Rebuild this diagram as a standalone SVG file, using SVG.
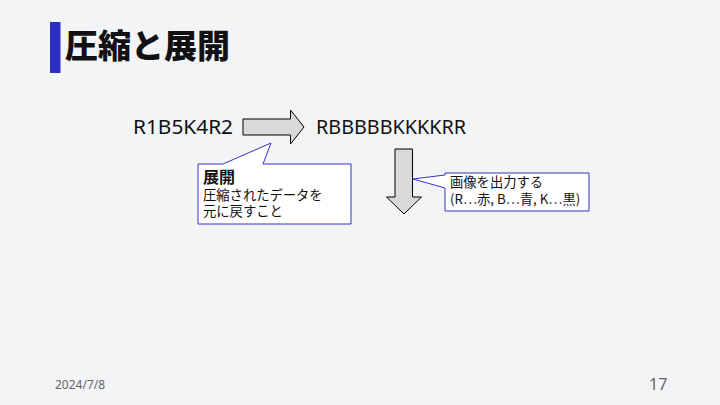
<svg xmlns="http://www.w3.org/2000/svg" width="720" height="405" viewBox="0 0 720 405">
<style>
.t{font-family:"Noto Sans","Noto Sans CJK JP",sans-serif;fill:#111}
.j{font-family:"Noto Sans CJK JP","Noto Sans",sans-serif;fill:#111}
.arrow{fill:#d9d9d9;stroke:#000;stroke-width:1}
.callout{fill:#fff;stroke:#3333cc;stroke-width:1}
.foot{font-family:"Noto Sans",sans-serif;fill:#666}
</style>
<rect width="720" height="405" fill="#f3f4f6"/>
<g id="title">
<rect x="50" y="22" width="10.5" height="51" fill="#2e2ec4"/>
<text class="j" x="65" y="57.5" font-size="33" font-weight="900">圧縮と展開</text>
</g>
<g id="src">
<text class="t" x="133" y="133.5" font-size="19.5" textLength="100" lengthAdjust="spacingAndGlyphs">R1B5K4R2</text>
</g>
<g id="dst">
<text class="t" x="316" y="133.5" font-size="19.5" textLength="150" lengthAdjust="spacingAndGlyphs">RBBBBBKKKKRR</text>
</g>
<g id="connectors">
<path class="arrow" d="M243,119 H290.5 V110 L304,127 L290.5,144 V135 H243 Z"/>
<path class="arrow" d="M395,149 H412.5 V197 H421.5 L404,214 L386.5,197 H395 Z"/>
</g>
<g id="callout-expand">
<path class="callout" d="M198,164 H223 L271,143 L263,164 H351 V224 H198 Z"/>
<text class="j" x="203" y="183" font-size="16" font-weight="bold">展開</text>
<text class="j" x="203" y="200" font-size="13.3">圧縮されたデータを</text>
<text class="j" x="203" y="216" font-size="13.3">元に戻すこと</text>
</g>
<g id="callout-output">
<path class="callout" d="M445,173 H589 V211 H445 V188 L413,179 L445,175 Z"/>
<text class="j" x="450" y="187" font-size="13.3">画像を出力する</text>
<text class="j" x="450" y="204" font-size="13.3">(R…赤, B…青, K…黒)</text>
</g>
<g id="footer">
<text class="foot" x="55" y="389" font-size="12">2024/7/8</text>
<text class="foot" x="649" y="390" font-size="16">17</text>
</g>
</svg>
